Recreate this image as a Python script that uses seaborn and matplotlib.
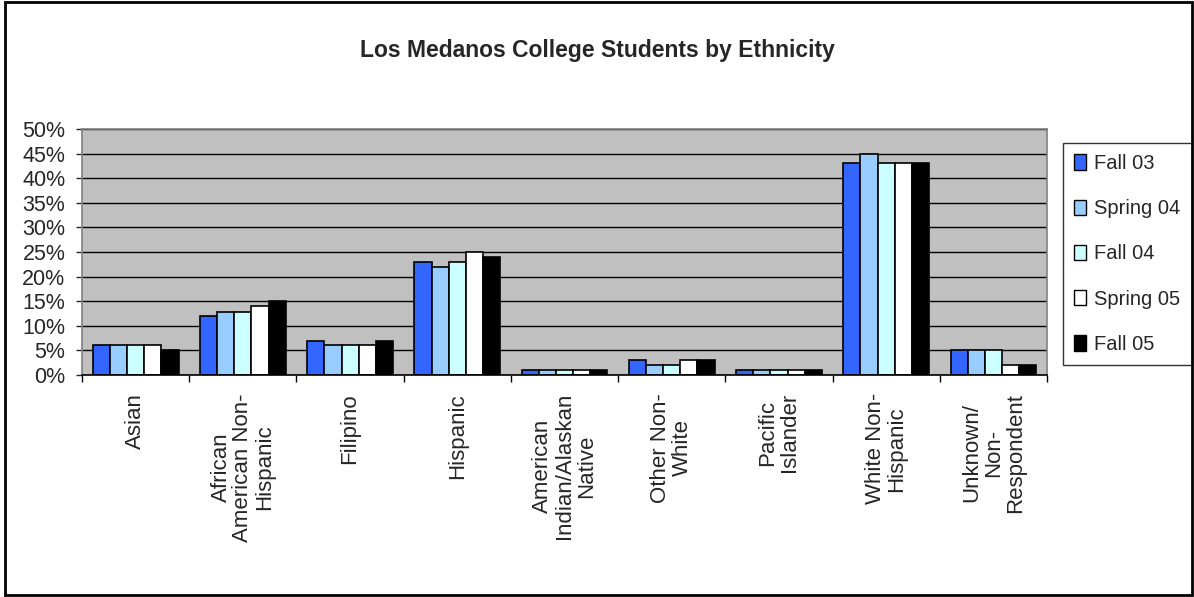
import matplotlib
matplotlib.use('Agg')
import matplotlib.pyplot as plt
import seaborn as sns
import pandas as pd
from matplotlib.patches import Rectangle
from matplotlib.ticker import PercentFormatter, MultipleLocator, FixedLocator

# Data (percent of students)
ethnicities = ["Asian", "African American Non-Hispanic", "Filipino", "Hispanic",
               "American Indian/Alaskan Native", "Other Non-White", "Pacific Islander",
               "White Non-Hispanic", "Unknown/Non-Respondent"]
tick_labels = ["Asian", "African\nAmerican Non-\nHispanic", "Filipino", "Hispanic",
               "American\nIndian/Alaskan\nNative", "Other Non-\nWhite", "Pacific\nIslander",
               "White Non-\nHispanic", "Unknown/\nNon-\nRespondent"]
terms = ["Fall 03", "Spring 04", "Fall 04", "Spring 05", "Fall 05"]
fall_03 = [6, 12, 7, 23, 1, 3, 1, 43, 5]
spring_04 = [6, 12.8, 6, 22, 1, 2, 1, 45, 5]
fall_04 = [6, 12.8, 6, 23, 1, 2, 1, 43, 5]
spring_05 = [6, 14, 6, 25, 1, 3, 1, 43, 2]
fall_05 = [5, 15, 7, 24, 1, 3, 1, 43, 2]
colors = ["#3366FF", "#99CCFF", "#CCFFFF", "#FFFFFF", "#000000"]

rows = []
for term, vals in zip(terms, [fall_03, spring_04, fall_04, spring_05, fall_05]):
    for eth, v in zip(ethnicities, vals):
        rows.append({'ethnicity': eth, 'term': term, 'pct': v})
df = pd.DataFrame(rows)

sns.set_style("white")
plt.rcParams['font.family'] = ['Liberation Sans', 'DejaVu Sans']

fig = plt.figure(figsize=(11.94, 5.97), dpi=100)
ax = fig.add_axes([0.0687, 0.3719, 0.8082, 0.412])
ax.set_facecolor('#C0C0C0')

sns.barplot(data=df, x='ethnicity', y='pct', hue='term', order=ethnicities, hue_order=terms,
            palette=colors, saturation=1, width=0.8, edgecolor='black', linewidth=1.2, ax=ax)

ax.set_ylim(0, 50)
ax.set_xlim(-0.5, len(ethnicities) - 0.5)
ax.yaxis.set_major_locator(MultipleLocator(5))
ax.yaxis.set_major_formatter(PercentFormatter(decimals=0))
ax.grid(axis='y', color='black', linewidth=1)
ax.set_axisbelow(True)
ax.tick_params(axis='y', labelsize=15.5, length=4, width=1, direction='out', pad=8, left=True)

ax.set_xticks(range(len(ethnicities)))
ax.set_xticklabels(tick_labels, rotation=90, fontsize=16, ha='center', va='top',
                   multialignment='center', linespacing=1.05)
ax.tick_params(axis='x', which='major', length=0, pad=13)
ax.xaxis.set_minor_locator(FixedLocator([i - 0.5 for i in range(len(ethnicities) + 1)]))
ax.tick_params(axis='x', which='minor', length=5, width=1, color='black', direction='out', bottom=True)
ax.set_xlabel('')
ax.set_ylabel('')

for side in ['top', 'right', 'left']:
    ax.spines[side].set_color('#808080')
    ax.spines[side].set_linewidth(1.2)
ax.spines['bottom'].set_color('black')
ax.spines['bottom'].set_linewidth(1.2)

leg = ax.legend(loc='upper left', bbox_to_anchor=(1.0166, 0.943), frameon=True, fontsize=14.5,
                handlelength=0.6, handleheight=0.8, handletextpad=0.4, labelspacing=1.3,
                borderpad=0.55, fancybox=False, borderaxespad=0)
leg.get_frame().set_edgecolor('black')
leg.get_frame().set_linewidth(1)
for h in leg.legend_handles:
    h.set_edgecolor('black')
    h.set_linewidth(1)

fig.suptitle('Los Medanos College Students by Ethnicity', fontsize=16.5, fontweight='bold',
             y=0.915, va='center')

fig.patches.append(Rectangle((0.004, 0.003), 0.994, 0.994, transform=fig.transFigure,
                             fill=False, edgecolor='black', linewidth=2))

fig.savefig('out.png', dpi=100)
